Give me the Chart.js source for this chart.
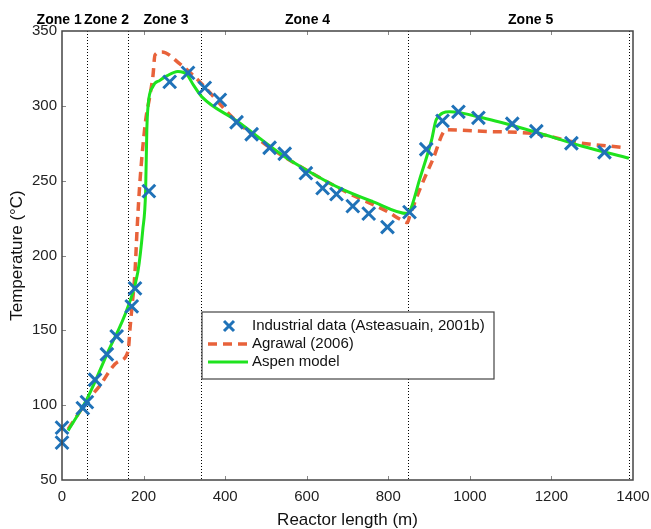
<!DOCTYPE html>
<html>
<head>
<meta charset="utf-8">
<title>Reactor temperature profile</title>
<script src="https://cdn.jsdelivr.net/npm/chart.js@4.4.1/dist/chart.umd.min.js"></script>
<style>
  body { margin: 0; background: #fff; }
  #tempChart { display: block; }
</style>
</head>
<body>
<canvas id="tempChart" width="651" height="529"></canvas>
<script>
// plant measurements
const industrialLength = [0, 0, 51, 61, 81, 110, 134, 171, 179, 213, 264, 309, 350, 387, 428, 465, 509, 546, 598, 639, 673, 713, 752, 798, 852, 893, 933, 972, 1021, 1104, 1163, 1249, 1330];
const industrialTemp = [85, 75, 98, 102, 117, 134, 146, 166, 178, 243, 316, 322, 312, 304, 289, 281, 272, 268, 255, 245, 241, 233, 228, 219, 229, 271, 290, 296, 292, 288, 283, 275, 269];

// literature profile
const agrawalLength = [15, 65, 90, 137, 162, 167, 171, 179, 184, 191, 205, 215, 223, 228, 245, 289, 338, 419, 500, 600, 700, 800, 830, 847, 852, 877, 909, 942, 1031, 1171, 1252, 1380];
const agrawalTemp = [84, 104, 112, 129, 136, 152, 164, 189, 217, 249, 290, 306, 320, 334, 336, 328, 316, 292, 274, 257, 242, 229, 224, 222, 226, 244, 264, 284, 283, 281, 276, 272];

// simulation profile
const aspenLength = [15, 61, 110, 162, 186, 198, 205, 208, 211, 223, 240, 257, 284, 306, 322, 343, 428, 546, 600, 681, 762, 847, 852, 877, 906, 918, 950, 1031, 1154, 1276, 1390];
const aspenTemp = [83, 104, 134, 166, 189, 217, 243, 284, 300, 313, 317, 320, 323, 321, 314, 306, 290, 266, 257, 245, 236, 228, 229, 251, 277, 291, 296, 292, 283, 273, 265];

// zone boundaries (m) and header labels
const zoneEdges = [62, 161, 340, 848, 1389];
const zoneNames = ['Zone 1', 'Zone 2', 'Zone 3', 'Zone 4', 'Zone 5'];
const zoneLabelAt = [-7, 109, 255, 602, 1149];

const xTicks = [0, 200, 400, 600, 800, 1000, 1200, 1400];
const yTicks = [50, 100, 150, 200, 250, 300, 350];

const FONT = "'Liberation Sans', Arial, Helvetica, sans-serif";

function pairs(xs, ys) {
    return xs.map((x, i) => ({ x: x, y: ys[i] }));
}

const framePlugin = {
    id: 'frame',
    beforeDatasetsDraw(chart) {
        const { ctx, chartArea: a, scales: { x } } = chart;
        ctx.save();
        ctx.strokeStyle = '#000';
        ctx.lineWidth = 1;
        ctx.setLineDash([1, 2]);
        zoneEdges.forEach(v => {
            const px = Math.round(x.getPixelForValue(v)) + 0.5;
            ctx.beginPath();
            ctx.moveTo(px, a.top);
            ctx.lineTo(px, a.bottom);
            ctx.stroke();
        });
        ctx.restore();
    },
    afterDraw(chart) {
        const { ctx, chartArea: a, scales: { x, y } } = chart;
        ctx.save();
        // inward tick marks
        ctx.strokeStyle = '#888';
        ctx.lineWidth = 1;
        xTicks.slice(1, -1).forEach(v => {
            const px = Math.round(x.getPixelForValue(v)) + 0.5;
            ctx.beginPath();
            ctx.moveTo(px, a.bottom); ctx.lineTo(px, a.bottom - 4);
            ctx.moveTo(px, a.top); ctx.lineTo(px, a.top + 4);
            ctx.stroke();
        });
        yTicks.slice(1, -1).forEach(v => {
            const py = Math.round(y.getPixelForValue(v)) + 0.5;
            ctx.beginPath();
            ctx.moveTo(a.left, py); ctx.lineTo(a.left + 4, py);
            ctx.stroke();
        });
        // axes box
        ctx.strokeStyle = '#444';
        ctx.lineWidth = 1.5;
        ctx.strokeRect(a.left, a.top, a.right - a.left, a.bottom - a.top);

        // zone headers
        ctx.fillStyle = '#000';
        ctx.font = 'bold 14px ' + FONT;
        ctx.textAlign = 'center';
        ctx.textBaseline = 'middle';
        zoneNames.forEach((name, i) => {
            ctx.fillText(name, x.getPixelForValue(zoneLabelAt[i]), 20);
        });

        // legend box
        const lx = a.left + 140, ly = a.top + 281, lw = 292, lh = 67;
        ctx.fillStyle = '#fff';
        ctx.fillRect(lx, ly, lw, lh);
        ctx.strokeStyle = '#444';
        ctx.lineWidth = 1.2;
        ctx.strokeRect(lx, ly, lw, lh);
        ctx.font = '15px ' + FONT;
        ctx.textAlign = 'left';
        chart.data.datasets.forEach((ds, i) => {
            const cy = ly + 14 + i * 18;
            ctx.strokeStyle = ds.borderColor;
            ctx.lineWidth = ds.borderWidth;
            if (ds.showLine === false) {
                ctx.setLineDash([]);
                ctx.beginPath();
                ctx.moveTo(lx + 22, cy - 5); ctx.lineTo(lx + 32, cy + 5);
                ctx.moveTo(lx + 32, cy - 5); ctx.lineTo(lx + 22, cy + 5);
                ctx.stroke();
            } else {
                ctx.setLineDash(ds.borderDash || []);
                ctx.beginPath();
                ctx.moveTo(lx + 6, cy); ctx.lineTo(lx + 46, cy);
                ctx.stroke();
            }
            ctx.setLineDash([]);
            ctx.fillStyle = '#111';
            ctx.fillText(ds.label, lx + 50, cy);
        });
        ctx.restore();
    }
};

new Chart(document.getElementById('tempChart').getContext('2d'), {
    type: 'scatter',
    data: {
        datasets: [{
            label: 'Industrial data (Asteasuain, 2001b)',
            data: pairs(industrialLength, industrialTemp),
            showLine: false,
            pointStyle: 'crossRot',
            pointRadius: 9,
            borderWidth: 3,
            borderColor: '#1f72b8',
            clip: false,
            order: 0
        }, {
            label: 'Agrawal (2006)',
            data: pairs(agrawalLength, agrawalTemp),
            showLine: true,
            borderColor: '#e8623a',
            borderWidth: 3.5,
            borderDash: [9, 6],
            pointRadius: 0,
            cubicInterpolationMode: 'monotone',
            order: 2
        }, {
            label: 'Aspen model',
            data: pairs(aspenLength, aspenTemp),
            showLine: true,
            borderColor: '#1ee31e',
            borderWidth: 3,
            pointRadius: 0,
            cubicInterpolationMode: 'monotone',
            order: 1
        }]
    },
    options: {
        responsive: false,
        animation: false,
        devicePixelRatio: 1,
        layout: { padding: { top: 31, right: 18, left: 0, bottom: 0 } },
        plugins: { legend: { display: false }, tooltip: { enabled: false } },
        scales: {
            x: {
                type: 'linear', min: 0, max: 1400,
                afterFit: s => { s.height = 49; s.paddingLeft = 0; s.paddingRight = 0; },
                afterBuildTicks: s => { s.ticks = xTicks.map(v => ({ value: v })); },
                grid: { display: false, drawTicks: false },
                border: { display: false },
                ticks: { padding: 8, color: '#222', font: { family: FONT, size: 15 }, maxRotation: 0,
                         callback: v => String(v) },
                title: { display: true, text: 'Reactor length (m)', color: '#111', padding: 0,
                         font: { family: FONT, size: 17, lineHeight: 1 } }
            },
            y: {
                type: 'linear', min: 50, max: 350,
                afterFit: s => { s.width = 62; s.paddingTop = 0; s.paddingBottom = 0; },
                afterBuildTicks: s => { s.ticks = yTicks.map(v => ({ value: v })); },
                grid: { display: false, drawTicks: false },
                border: { display: false },
                ticks: { padding: 5, color: '#222', font: { family: FONT, size: 15 },
                         callback: v => String(v) },
                title: { display: true, text: 'Temperature (°C)', color: '#111', padding: { top: 9, bottom: 0 },
                         font: { family: FONT, size: 17, lineHeight: 1 } }
            }
        }
    },
    plugins: [framePlugin]
});
</script>
</body>
</html>
